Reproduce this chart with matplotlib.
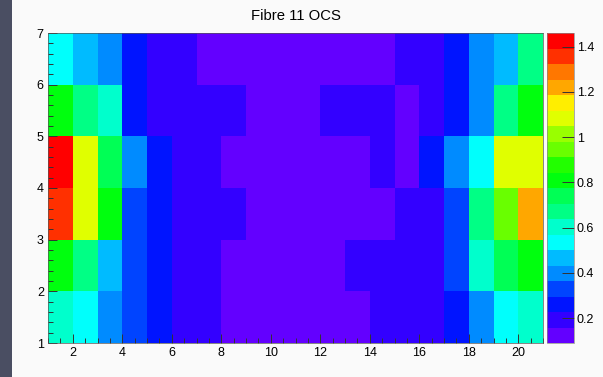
import colorsys

import matplotlib
matplotlib.use('Agg')
import matplotlib.pyplot as plt
import numpy as np
from matplotlib.colors import ListedColormap, BoundaryNorm
from matplotlib.patches import Rectangle
from matplotlib.ticker import MultipleLocator, FuncFormatter

plt.rcParams['font.family'] = ['Liberation Sans', 'DejaVu Sans']

# bin edges (20 x 6 bins)
x_edges = np.arange(1, 22)
y_edges = np.arange(1, 8)

# bin contents, one row per y bin (bottom to top), x bins 1..20
row_y1 = [0.60, 0.54, 0.40, 0.33, 0.26, 0.19, 0.19, 0.12, 0.12, 0.12, 0.12, 0.12, 0.12, 0.19, 0.19, 0.19, 0.26, 0.40, 0.54, 0.60]
row_y2 = [0.81, 0.67, 0.47, 0.33, 0.26, 0.19, 0.19, 0.12, 0.12, 0.12, 0.12, 0.12, 0.19, 0.19, 0.19, 0.19, 0.33, 0.60, 0.74, 0.81]
row_y3 = [1.36, 1.08, 0.81, 0.33, 0.26, 0.19, 0.19, 0.19, 0.12, 0.12, 0.12, 0.12, 0.12, 0.12, 0.19, 0.19, 0.33, 0.67, 0.95, 1.22]
row_y4 = [1.43, 1.08, 0.74, 0.40, 0.26, 0.19, 0.19, 0.12, 0.12, 0.12, 0.12, 0.12, 0.12, 0.19, 0.12, 0.26, 0.40, 0.54, 1.08, 1.08]
row_y5 = [0.81, 0.67, 0.60, 0.26, 0.19, 0.19, 0.19, 0.19, 0.12, 0.12, 0.12, 0.19, 0.19, 0.19, 0.12, 0.19, 0.26, 0.40, 0.67, 0.81]
row_y6 = [0.54, 0.47, 0.40, 0.26, 0.19, 0.19, 0.12, 0.12, 0.12, 0.12, 0.12, 0.12, 0.12, 0.12, 0.19, 0.19, 0.26, 0.40, 0.47, 0.67]

z_min, z_max = 0.09, 1.46
n_levels = 20
cbar_ticks = [0.2, 0.4, 0.6, 0.8, 1.0, 1.2, 1.4]

z = np.array([row_y1, row_y2, row_y3, row_y4, row_y5, row_y6])

# old ROOT "pretty" palette: 50 hues violet -> red, picked for 20 contours
pretty = []
for i in range(50):
    hue = 280 - (i + 1) * (280 / 50)
    pretty.append(colorsys.hls_to_rgb(hue / 360, 0.5, 1.0))
cols = [pretty[int((k + 0.99) * 50 / n_levels)] for k in range(n_levels)]
cmap = ListedColormap(cols)
norm = BoundaryNorm(np.linspace(z_min, z_max, n_levels + 1), n_levels)

W, H = 603, 377
fig = plt.figure(figsize=(W / 100, H / 100), dpi=100, facecolor='#fafafa')
fig.patches.append(Rectangle((0, 0), 12 / W, 1, transform=fig.transFigure,
                             facecolor='#4a4e62', edgecolor='none'))

ax = fig.add_axes([48 / W, 34 / H, 495 / W, 310 / H])
mesh = ax.pcolormesh(x_edges, y_edges, z, cmap=cmap, norm=norm)
ax.set_xlim(1, 21)
ax.set_ylim(1, 7)

ax.xaxis.set_major_locator(MultipleLocator(2))
ax.xaxis.set_minor_locator(MultipleLocator(0.5))
ax.yaxis.set_major_locator(MultipleLocator(1))
ax.yaxis.set_minor_locator(MultipleLocator(0.2))
ax.tick_params(which='both', direction='in', color='#333333', width=0.7)
ax.tick_params(which='major', length=6.5, labelsize=9, pad=3)
ax.tick_params(which='minor', length=3.5)
for s in ax.spines.values():
    s.set_linewidth(0.5)
    s.set_color('#555555')

fig.text(295.5 / W, 1 - 19.5 / H, 'Fibre 11 OCS', ha='center', va='baseline', fontsize=10.7)

cax = fig.add_axes([547 / W, 34 / H, 27 / W, 310 / H])
cb = fig.colorbar(mesh, cax=cax, ticks=cbar_ticks, format=FuncFormatter(lambda v, p: '%g' % v))
cb.outline.set_linewidth(0.5)
cb.outline.set_edgecolor('#888888')
cax.tick_params(direction='in', length=9, width=0.7, color='#333333', labelsize=9, pad=2)
cax.minorticks_off()

plt.savefig('out.png', dpi=100, facecolor=fig.get_facecolor())
